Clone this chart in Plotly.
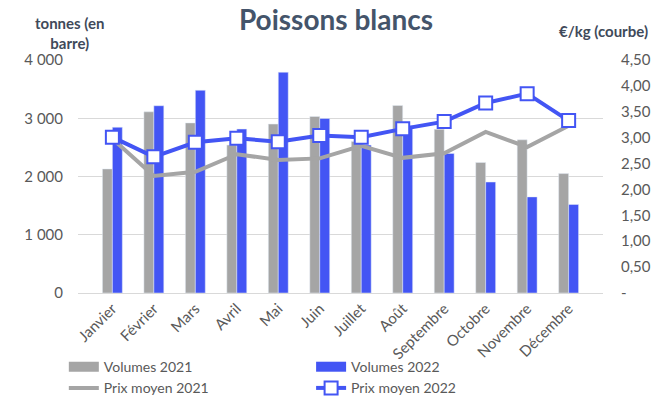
import plotly.graph_objects as go

months = ["Janvier", "Février", "Mars", "Avril", "Mai", "Juin", "Juillet", "Août",
          "Septembre", "Octobre", "Novembre", "Décembre"]
vol_2021 = [2130, 3110, 2920, 2540, 2900, 3030, 2600, 3220, 2810, 2240, 2630, 2050]
vol_2022 = [2845, 3215, 3480, 2815, 3790, 2995, 2540, 2870, 2395, 1905, 1650, 1520]
prix_2021 = [2.98, 2.26, 2.34, 2.68, 2.57, 2.60, 2.84, 2.61, 2.70, 3.11, 2.82, 3.23]
prix_2022 = [3.01, 2.63, 2.91, 2.99, 2.92, 3.04, 3.01, 3.17, 3.31, 3.67, 3.85, 3.33]

left_ticks = [0, 1000, 2000, 3000, 4000]
left_labels = ["0", "1 000", "2 000", "3 000", "4 000"]
right_ticks = [0, 0.5, 1.0, 1.5, 2.0, 2.5, 3.0, 3.5, 4.0, 4.5]
right_labels = ["-", "0,50", "1,00", "1,50", "2,00", "2,50", "3,00", "3,50", "4,00", "4,50"]

GRAY = "#A5A5A5"
BLUE = "#4355F4"
TXT = "#595959"
LAB = "#3F4A5A"
FONT = "Lato"

fig = go.Figure()
fig.add_trace(go.Bar(x=months, y=vol_2021, name="Volumes 2021", marker_color=GRAY,
                     showlegend=False, legendgroup="v21"))
fig.add_trace(go.Bar(x=months, y=vol_2022, name="Volumes 2022", marker_color=BLUE,
                     showlegend=False, legendgroup="v22"))
# legend swatches for the bars (wide rectangles, as in the reference)
fig.add_trace(go.Scatter(x=[None], y=[None], name="Volumes 2021", mode="lines",
                         line=dict(color=GRAY, width=10), legendgroup="v21", legend="legend"))
fig.add_trace(go.Scatter(x=[None], y=[None], name="Volumes 2022", mode="lines",
                         line=dict(color=BLUE, width=10), legendgroup="v22", legend="legend2"))
fig.add_trace(go.Scatter(x=months, y=prix_2021, name="Prix moyen 2021", yaxis="y2",
                         mode="lines", line=dict(color=GRAY, width=4), legend="legend"))
fig.add_trace(go.Scatter(x=months, y=prix_2022, name="Prix moyen 2022", yaxis="y2",
                         mode="lines+markers", line=dict(color=BLUE, width=4), legend="legend2",
                         marker=dict(symbol="square", size=13, color="white",
                                     line=dict(color=BLUE, width=2))))

leg_common = dict(orientation="v", yref="container", y=0.12, yanchor="top",
                  font=dict(size=14, color=TXT), tracegroupgap=0, itemwidth=30,
                  traceorder="normal", bgcolor="rgba(0,0,0,0)")

fig.update_layout(
    width=668, height=399,
    margin=dict(l=78, r=65, t=60, b=106),
    paper_bgcolor="white", plot_bgcolor="white",
    font=dict(family=FONT, color=TXT, size=14),
    barmode="group", bargap=0.52, bargroupgap=0,
    title=dict(text="<b>Poissons blancs</b>", x=0.503, xanchor="center", y=0.975, yanchor="top",
               font=dict(family=FONT, size=28, color="#44546A")),
    xaxis=dict(tickangle=-45, tickfont=dict(size=15, color=TXT), showgrid=False,
               showline=True, linecolor="#D9D9D9", ticks="", automargin=False),
    yaxis=dict(range=[0, 4000], tickvals=left_ticks, ticktext=left_labels,
               showgrid=True, gridcolor="#D9D9D9", zeroline=False, automargin=False,
               tickfont=dict(size=15, color=TXT), ticklabelstandoff=14),
    yaxis2=dict(range=[0, 4.5], overlaying="y", side="right", tickvals=right_ticks,
                ticktext=right_labels, showgrid=False, zeroline=False, automargin=False,
                tickfont=dict(size=15, color=TXT), ticklabelstandoff=17),
    legend=dict(x=-0.027, xanchor="left", **leg_common),
    legend2=dict(x=0.444, xanchor="left", **leg_common),
    annotations=[
        dict(text="<b>tonnes (en<br>barre)</b>", xref="paper", yref="paper", x=-0.017, y=1.205,
             xanchor="center", yanchor="top", showarrow=False,
             font=dict(family=FONT, size=15, color=LAB)),
        dict(text="<b>€/kg (courbe)</b>", xref="paper", yref="paper", x=1.0, y=1.17,
             xanchor="center", yanchor="top", showarrow=False,
             font=dict(family=FONT, size=15, color=LAB)),
    ],
)

fig.write_html("out.html")
